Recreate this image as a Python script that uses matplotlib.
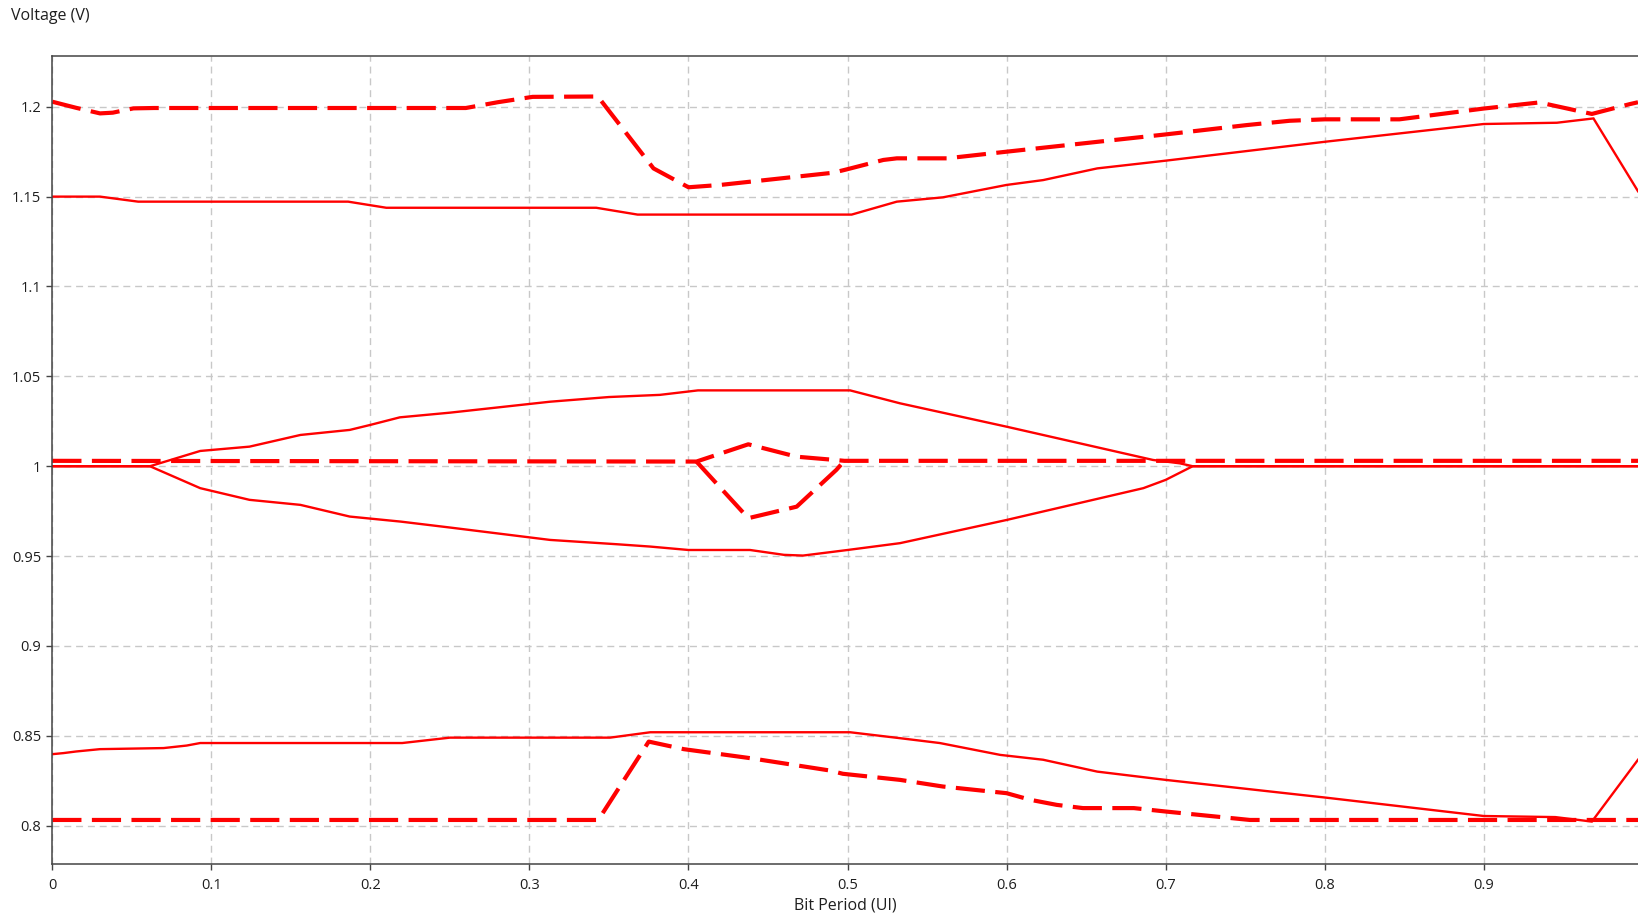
import matplotlib
matplotlib.use("Agg")
import matplotlib.pyplot as plt
from matplotlib.ticker import FuncFormatter

# ---- data ----
upper_dash_x = [0, 0.015, 0.03, 0.038, 0.051, 0.064, 0.26, 0.28, 0.302, 0.343, 0.378, 0.4, 0.42,
                0.491, 0.4997, 0.5225, 0.531, 0.5624, 0.6, 0.7, 0.751, 0.778, 0.8, 0.847, 0.9,
                0.935, 0.968, 0.992, 0.997]
upper_dash_y = [1.2028, 1.1994, 1.1963, 1.1967, 1.1991, 1.1993, 1.1993, 1.2025, 1.2055, 1.2057,
                1.1657, 1.1552, 1.1565, 1.1633, 1.1652, 1.1704, 1.1713, 1.1713, 1.175, 1.1846,
                1.1898, 1.1922, 1.193, 1.193, 1.199, 1.2024, 1.196, 1.2015, 1.2025]

upper_solid_x = [0, 0.03, 0.054, 0.186, 0.21, 0.342, 0.368, 0.5026, 0.531, 0.56, 0.6, 0.623,
                 0.657, 0.7, 0.8, 0.9, 0.946, 0.969, 0.997]
upper_solid_y = [1.15, 1.15, 1.1472, 1.1472, 1.1438, 1.1438, 1.1400, 1.1400, 1.1472, 1.1496,
                 1.1565, 1.1592, 1.1657, 1.17, 1.1805, 1.1904, 1.1911, 1.1935, 1.153]

eye_top_x = [0, 0.0614, 0.093, 0.124, 0.156, 0.187, 0.2, 0.2185, 0.25, 0.313, 0.35, 0.382, 0.406,
             0.5016, 0.533, 0.6, 0.692, 0.709, 0.717, 0.997]
eye_top_y = [1.0, 1.0, 1.0085, 1.0109, 1.0174, 1.0202, 1.023, 1.0272, 1.0298, 1.0359, 1.0385,
             1.0397, 1.0422, 1.0422, 1.035, 1.022, 1.0035, 1.0016, 1.0, 1.0]

eye_bot_x = [0, 0.0614, 0.093, 0.124, 0.156, 0.187, 0.219, 0.25, 0.313, 0.355, 0.376, 0.4, 0.4387,
             0.46, 0.472, 0.5, 0.533, 0.6, 0.686, 0.7, 0.717, 0.997]
eye_bot_y = [1.0, 1.0, 0.9878, 0.9813, 0.9785, 0.972, 0.9692, 0.9659, 0.959, 0.9566, 0.9553,
             0.9534, 0.9534, 0.9507, 0.9503, 0.9534, 0.9572, 0.9701, 0.9878, 0.9924, 1.0, 1.0]

mid_dash_a_x = [0, 0.405, 0.4376, 0.468, 0.492, 0.498, 0.997]
mid_dash_a_y = [1.003, 1.0026, 1.0122, 1.0053, 1.0035, 1.003, 1.003]

mid_dash_b_x = [0.405, 0.4376, 0.468, 0.493, 0.498]
mid_dash_b_y = [1.0026, 0.9711, 0.9775, 0.998, 1.003]

bot_solid_x = [0, 0.007, 0.015, 0.03, 0.07, 0.0845, 0.093, 0.22, 0.25, 0.3507, 0.376, 0.5016,
               0.533, 0.558, 0.596, 0.623, 0.657, 0.7, 0.7845, 0.8, 0.9, 0.945, 0.968, 0.997]
bot_solid_y = [0.8398, 0.8404, 0.8413, 0.8426, 0.8432, 0.8446, 0.846, 0.846, 0.849, 0.849, 0.852,
               0.852, 0.8487, 0.846, 0.8394, 0.8367, 0.8301, 0.8255, 0.8172, 0.8157, 0.8054,
               0.8048, 0.8023, 0.8367]

bot_dash_x = [0, 0.3433, 0.355, 0.375, 0.397, 0.4387, 0.489, 0.497, 0.533, 0.56, 0.6, 0.615,
              0.6315, 0.648, 0.68, 0.7, 0.753, 0.997]
bot_dash_y = [0.8032, 0.8032, 0.8193, 0.8468, 0.8426, 0.8376, 0.8307, 0.8289, 0.8255, 0.8218,
              0.8181, 0.8144, 0.8116, 0.8098, 0.8098, 0.8079, 0.8032, 0.8032]

x_ticks = [0, 0.1, 0.2, 0.3, 0.4, 0.5, 0.6, 0.7, 0.8, 0.9]
y_ticks = [0.8, 0.85, 0.9, 0.95, 1.0, 1.05, 1.1, 1.15, 1.2]

# ---- style ----
plt.rcParams['font.family'] = ['Open Sans', 'DejaVu Sans']
FS = 10.5
FS_LBL = 11.5
RED = '#ff0000'
TXT = '#1e1e1e'

fig = plt.figure(figsize=(16.38, 9.15), dpi=100)
ax = fig.add_axes([52.3 / 1638, 1 - 864 / 915, 1 - 52.3 / 1638, (864 - 55.7) / 915])

solid_kw = dict(color=RED, lw=1.7, solid_joinstyle='miter')
dash_kw = dict(color=RED, lw=3.0, linestyle=(0, (7.0, 2.5)), dash_capstyle='butt')

ax.plot(bot_solid_x, bot_solid_y, **solid_kw)
ax.plot(eye_top_x, eye_top_y, **solid_kw)
ax.plot(eye_bot_x, eye_bot_y, **solid_kw)
ax.plot(upper_solid_x, upper_solid_y, **solid_kw)
ax.plot(upper_dash_x, upper_dash_y, **dash_kw)
ax.plot(mid_dash_a_x, mid_dash_a_y, **dash_kw)
ax.plot(mid_dash_b_x, mid_dash_b_y, **dash_kw)
ax.plot(bot_dash_x, bot_dash_y, **dash_kw)

ax.set_xlim(0, 0.997)
ax.set_ylim(0.7787, 1.2284)
ax.set_xticks(x_ticks)
ax.set_yticks(y_ticks)
ax.xaxis.set_major_formatter(FuncFormatter(lambda v, p: f"{v:g}"))
ax.yaxis.set_major_formatter(FuncFormatter(lambda v, p: f"{v:g}"))

ax.grid(True, color='#c8c8c8', lw=1.0, linestyle=(0, (5, 3.5)))
ax.set_axisbelow(True)

for s in ['left', 'bottom', 'top']:
    ax.spines[s].set_color('#444444')
    ax.spines[s].set_linewidth(1.1)
ax.spines['right'].set_visible(False)

ax.tick_params(axis='both', direction='out', length=4, width=1, color='#444444',
               labelsize=FS, labelcolor=TXT, pad=4)
ax.tick_params(axis='x', pad=6)

ax.set_xlabel('Bit Period (UI)', fontsize=FS_LBL, color=TXT, labelpad=3)
fig.text(11 / 1638, 1 - 16 / 915, 'Voltage (V)', fontsize=FS_LBL, color=TXT,
         ha='left', va='center')

fig.savefig('out.png', dpi=100)
